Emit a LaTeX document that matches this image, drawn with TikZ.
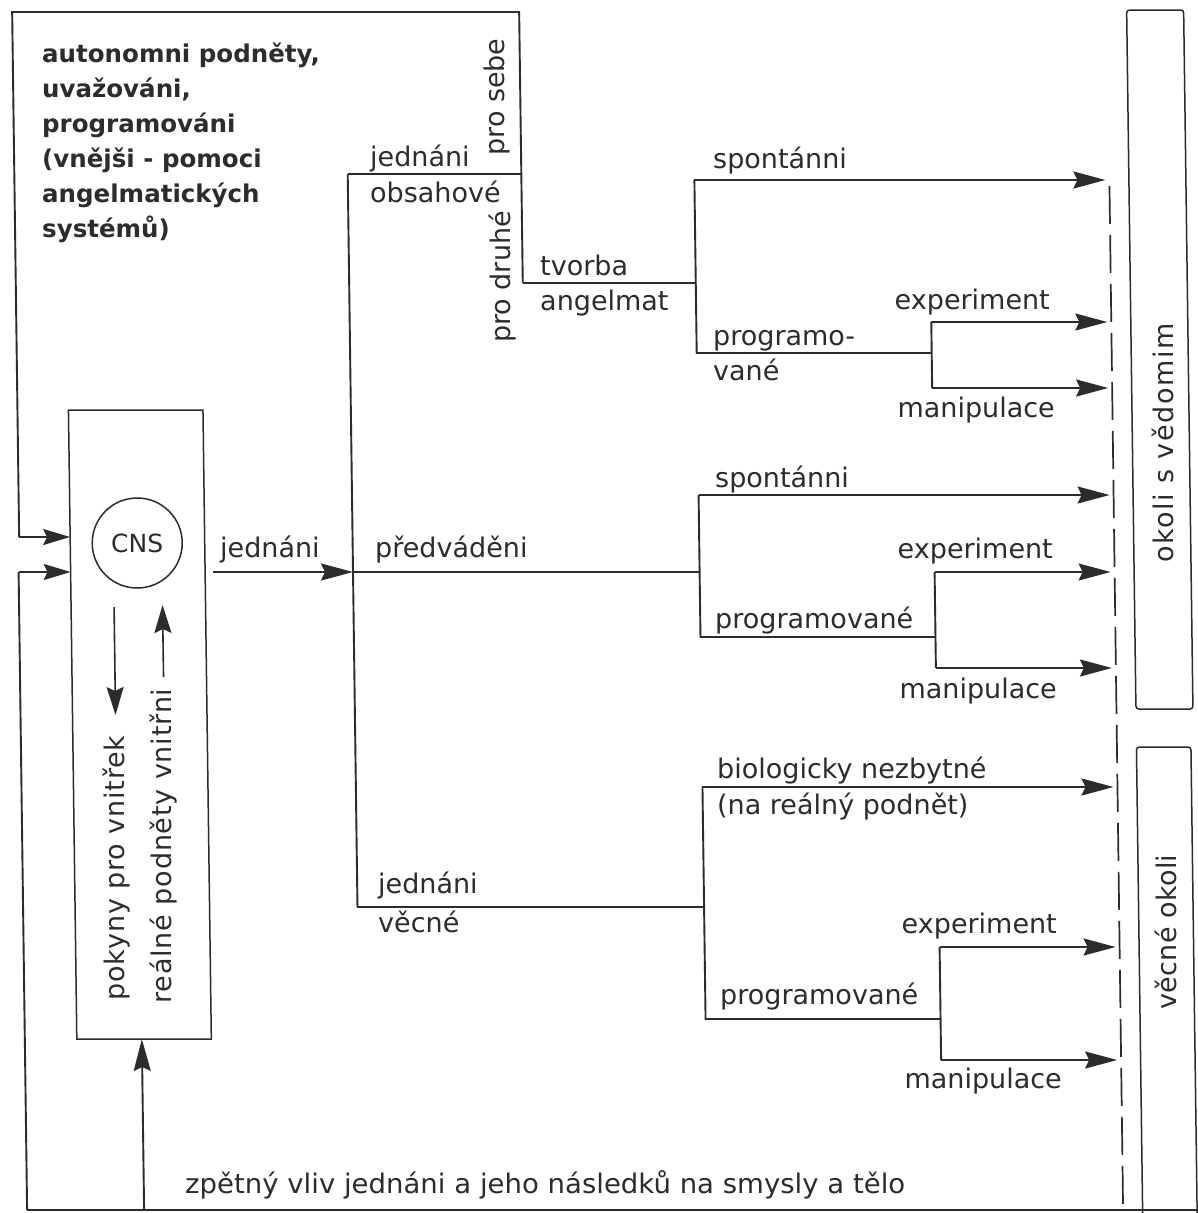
\documentclass[tikz,border=0pt]{standalone}
\usepackage{fontspec}
\usepackage{graphicx}
\setmainfont{DejaVu Sans}
\usetikzlibrary{arrows.meta}
\definecolor{ink}{HTML}{2E2B2C}
\begin{document}
\begin{tikzpicture}[x=1pt,y=-1pt,
  ln/.style={draw=ink, line width=1.9pt},
  thin/.style={draw=ink, line width=1.5pt},
  arr/.style={ln, -{Stealth[length=32pt,width=17pt,inset=4pt]}},
  sarr/.style={ln, -{Stealth[length=27pt,width=16pt,inset=4pt]}},
  lab/.style={text=ink, font=\fontsize{27}{32}\selectfont, inner sep=0pt, anchor=base west},
  labr/.style={lab, anchor=base east},
  blab/.style={text=ink, font=\bfseries\fontsize{24.5}{30}\selectfont, inner sep=0pt, anchor=base west},
  vlab/.style={text=ink, font=\fontsize{27}{32}\selectfont, inner sep=0pt, rotate=90},
]
\useasboundingbox (0,0) rectangle (1198,1213);
\fill[white] (0,0) rectangle (1198,1213);

% ===== structure, drawn in a slightly sheared frame like the scan =====
\begin{scope}[y={(0.0133pt,-1pt)}]
% CNS box corners
\coordinate (bxNW) at (63,410);
\coordinate (bxNE) at (197.5,410);
\coordinate (bxSE) at (197.5,1039);
\coordinate (bxSW) at (63,1039);
\draw[thin] (bxNW) -- (bxNE) -- (bxSE) -- (bxSW) -- cycle;
\node[thin, circle, minimum size=90pt, inner sep=0pt, text=ink, font=\fontsize{25}{30}\selectfont] (cns) at (130,543) {CNS};

% coordinates
\coordinate (tl) at (12,12);
\coordinate (tr) at (519,12);
\coordinate (in1) at (12,537);
\coordinate (bxI1) at (63,537);
\coordinate (in2) at (11,572);
\coordinate (bxI2) at (63,572);
\coordinate (bl) at (11,1210);
\coordinate (br) at (1190,1210);
\coordinate (fb) at (128,1210);
\coordinate (bxS) at (128,1039);
\coordinate (jS) at (205.4,572);
\coordinate (jA) at (345.4,572);
\coordinate (jT) at (345.4,174);
\coordinate (jB) at (345.4,907);
\coordinate (pse) at (519,174);
\coordinate (tv) at (519,283);

% branch 1
\coordinate (b1) at (692,283);
\coordinate (b1t) at (692,180);
\coordinate (b1b) at (692,353);
\coordinate (c1) at (927,353);
\coordinate (c1t) at (927,322);
\coordinate (c1b) at (927,388);
% branch 2
\coordinate (b2) at (692,572);
\coordinate (b2t) at (692,495);
\coordinate (b2b) at (692,637);
\coordinate (c2) at (927,637);
\coordinate (c2t) at (927,572);
\coordinate (c2b) at (927,668);
% branch 3
\coordinate (b3) at (692,907);
\coordinate (b3t) at (692,787);
\coordinate (b3b) at (692,1019);
\coordinate (c3) at (927,1019);
\coordinate (c3t) at (927,947);
\coordinate (c3b) at (927,1060);

% arrow tips at the dashed boundary
\coordinate (a1) at (1103,180);
\coordinate (a2) at (1103,322);
\coordinate (a3) at (1103,388);
\coordinate (a4) at (1103,495);
\coordinate (a5) at (1103,572);
\coordinate (a6) at (1103,668);
\coordinate (a7) at (1103,787);
\coordinate (a8) at (1103,947);
\coordinate (a9) at (1103,1060);

% connectors
\draw[ln] (in1) -- (tl) -- (tr) -- (tv);
\draw[sarr] (in1) -- (bxI1);
\draw[ln] (bl) -- (in2);
\draw[sarr] (in2) -- (bxI2);
\draw[ln] (bl) -- (br);
\draw[arr] (fb) -- (bxS);
\draw[arr] (jS) -- (jA);

\draw[ln] (jT) -- (jB);
\draw[ln] (jT) -- (pse);
\draw[ln] (jA) -- (b2);
\draw[ln] (jB) -- (b3);

\draw[ln] (tv) -- (b1);
\draw[ln] (b1t) -- (b1b) -- (c1);
\draw[ln] (c1t) -- (c1b);
\draw[arr] (b1t) -- (a1);
\draw[arr] (c1t) -- (a2);
\draw[arr] (c1b) -- (a3);

\draw[ln] (b2t) -- (b2b) -- (c2);
\draw[ln] (c2t) -- (c2b);
\draw[arr] (b2t) -- (a4);
\draw[arr] (c2t) -- (a5);
\draw[arr] (c2b) -- (a6);

\draw[ln] (b3t) -- (b3b) -- (c3);
\draw[ln] (c3t) -- (c3b);
\draw[arr] (b3t) -- (a7);
\draw[arr] (c3t) -- (a8);
\draw[arr] (c3b) -- (a9);

% CNS internal arrows
\coordinate (dn1) at (106,607);
\coordinate (dn2) at (106,715);
\coordinate (up1) at (154.5,677);
\coordinate (up2) at (154.5,605);
\draw[ln, line width=1.6pt, -{Stealth[length=28pt,width=17pt,inset=4pt]}] (dn1) -- (dn2);
\draw[ln, line width=1.6pt, -{Stealth[length=28pt,width=17pt,inset=4pt]}] (up1) -- (up2);

% dashed boundary
\coordinate (d1) at (1107,186);
\coordinate (d2) at (1107,1213);
\draw[ink, line width=1.7pt, dash pattern=on 38pt off 11pt] (d1) -- (d2);

% environment boxes
\coordinate (e1a) at (1126.5,709);
\coordinate (e1b) at (1126.5,10);
\coordinate (e1c) at (1183.5,10);
\coordinate (e1d) at (1183.5,709);
\draw[thin, rounded corners=3pt] (e1a) -- (e1b) -- (e1c) -- (e1d) -- cycle;
\coordinate (e2a) at (1126.5,1213);
\coordinate (e2b) at (1126.5,747);
\coordinate (e2c) at (1181,747);
\coordinate (e2d) at (1181,1213);
\draw[thin, rounded corners=3pt] (e2a) -- (e2b) -- (e2c) -- (e2d);
\end{scope}

% ===== texts =====
\node[blab] (t1) at (42,62) {autonomni podněty,};
\node[blab] (t2) at (42,97) {uvažováni,};
\node[blab] (t3) at (42,132) {programováni};
\node[blab] (t4) at (42,167) {(vnějši - pomoci};
\node[blab] (t5) at (42,202) {angelmatických};
\node[blab] (t6) at (42,237) {systémů)};

\node[lab] (l1) at (370,166) {jednáni};
\node[lab] (l2) at (370,202) {obsahové};
\node[vlab] (ps) at (497,97) {pro sebe};
\node[vlab] (pd) at (503,277) {pro druhé};
\node[lab] (l3) at (540,275) {tvorba};
\node[lab] (l4) at (540,310) {angelmat};
\node[lab] (l5) at (713,168) {spontánni};
\node[labr] (l6) at (1050,309) {experiment};
\node[lab] (l7) at (713,345) {programo-};
\node[lab] (l8) at (713,380) {vané};
\node[labr] (l9) at (1055,417) {manipulace};

\node[lab] (m1) at (220,557) {jednáni};
\node[lab] (m2) at (375,557) {předváděni};
\node[lab] (m3) at (715,487) {spontánni};
\node[labr] (m4) at (1053,558) {experiment};
\node[lab] (m5) at (715,628) {programované};
\node[labr] (m6) at (1057,698) {manipulace};

\node[lab] (n1) at (378,893) {jednáni};
\node[lab] (n2) at (378,932) {věcné};
\node[lab] (n3) at (717,778) {biologicky nezbytné};
\node[lab] (n4) at (717,814) {(na reálný podnět)};
\node[labr] (n5) at (1057,933) {experiment};
\node[lab] (n6) at (720,1004) {programované};
\node[labr] (n7) at (1062,1088) {manipulace};

\node[vlab, font=\fontsize{27}{32}\selectfont\addfontfeatures{LetterSpace=3}] (v1) at (117,868) {pokyny pro vnitřek};
\node[vlab, font=\fontsize{27}{32}\selectfont\addfontfeatures{LetterSpace=3}] (v2) at (164,846) {reálné podněty vnitřni};
\node[vlab, font=\fontsize{27}{32}\selectfont\addfontfeatures{LetterSpace=6}] (e1) at (1163,443) {okoli s vědomim};
\node[vlab, font=\fontsize{27}{32}\selectfont\addfontfeatures{LetterSpace=1}] (e2) at (1166,932) {věcné okoli};

\node[lab] (fbt) at (185,1193) {\resizebox{720pt}{\height}{zpětný vliv jednáni a jeho následků na smysly a tělo}};
\end{tikzpicture}
\end{document}
